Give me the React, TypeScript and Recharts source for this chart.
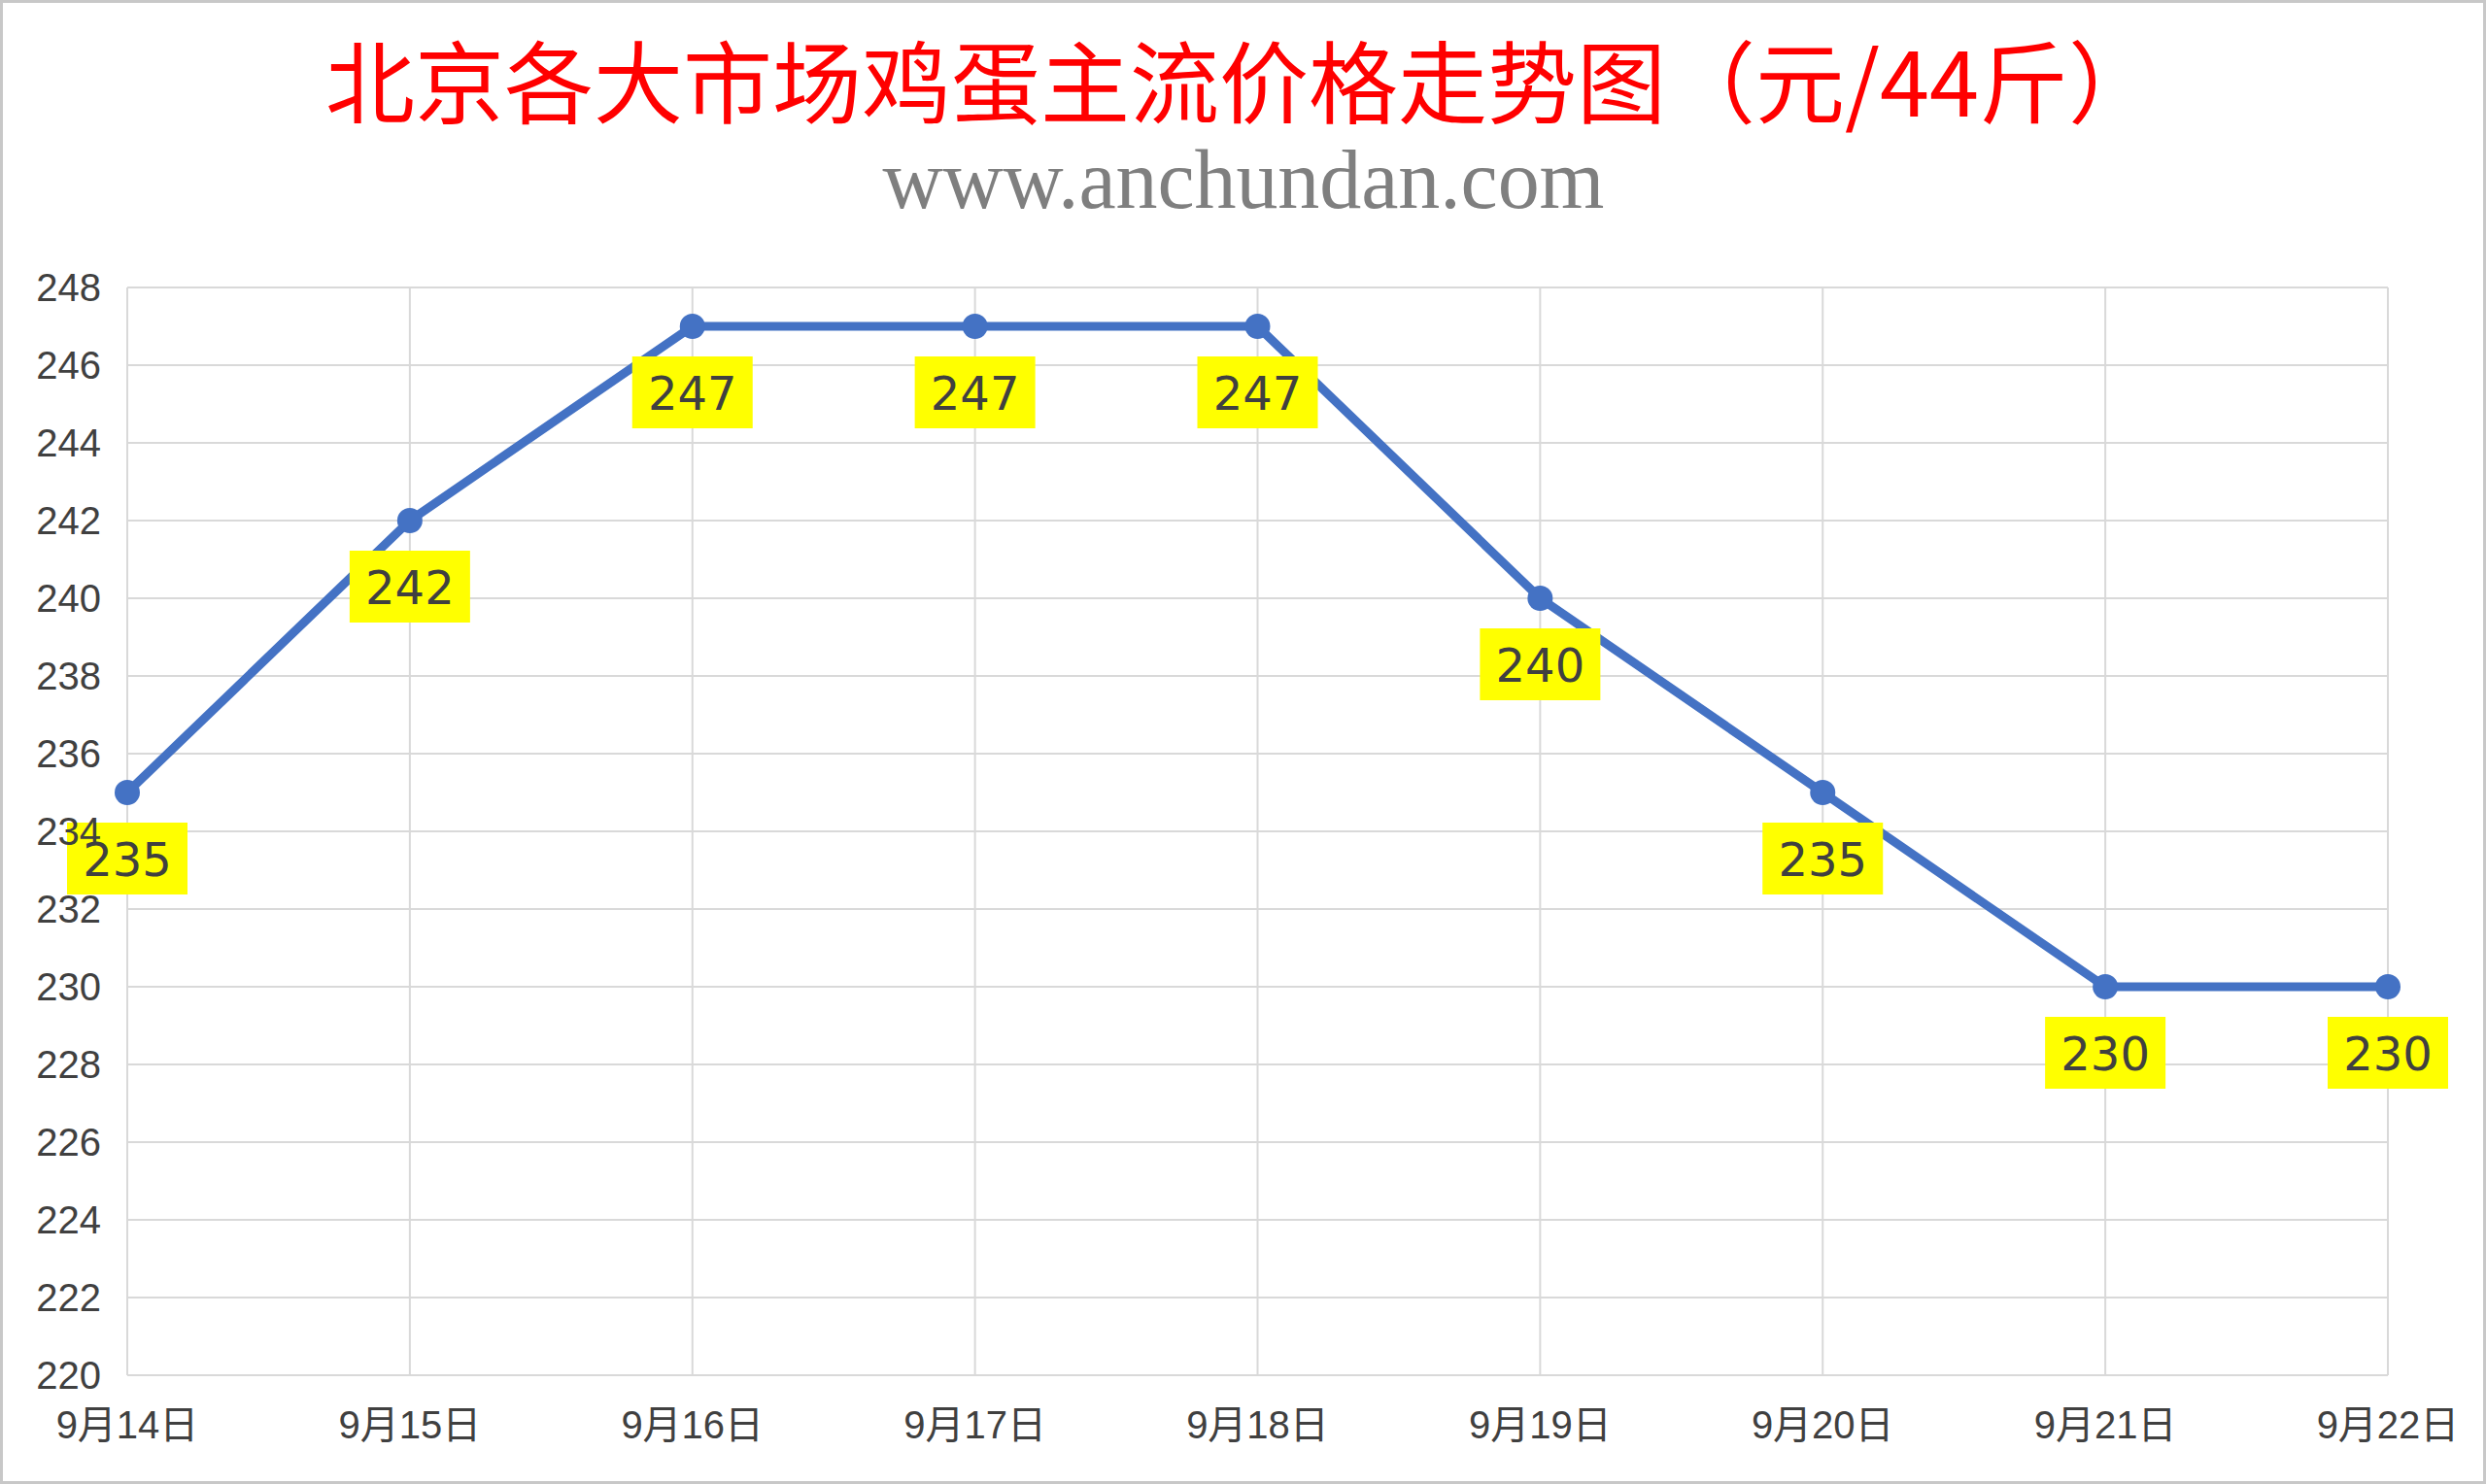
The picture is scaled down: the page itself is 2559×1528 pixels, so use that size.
import { LineChart, Line, XAxis, YAxis, CartesianGrid } from 'recharts'

const dates = ['9月14日', '9月15日', '9月16日', '9月17日', '9月18日', '9月19日', '9月20日', '9月21日', '9月22日']
const prices = [235, 242, 247, 247, 247, 240, 235, 230, 230]
const yTicks = [220, 222, 224, 226, 228, 230, 232, 234, 236, 238, 240, 242, 244, 246, 248]

const chartData = dates.map((d, i) => ({ date: d, price: prices[i] }))

const tickFont = '"Liberation Sans", Arial, "Noto Sans CJK SC", sans-serif'

// yellow box under each point, like the excel data labels
function PriceLabel(props: any) {
  const { x, y, value } = props
  if (x == null || y == null) return null
  return (
    <g>
      <rect x={x - 62} y={y + 31} width={124} height={74} fill="#FFFF00" />
      <text x={x} y={y + 86} textAnchor="middle" fontSize={48} fontFamily='"DejaVu Sans", sans-serif' fill="#404040">
        {value}
      </text>
    </g>
  )
}

export default function App() {
  return (
    <div style={{ position: 'absolute', left: 0, top: 0, width: 2559, height: 1528, background: '#fff' }}>
      <svg width={2559} height={260} style={{ position: 'absolute', left: 0, top: 0 }}>
        <text x={1278} y={120} textAnchor="middle" fontSize={92} fill="#FF0000" fontFamily='"Noto Sans CJK SC", sans-serif'>
          北京各大市场鸡蛋主流价格走势图（元/44斤）
        </text>
        <text x={1280} y={214} textAnchor="middle" fontSize={86} fill="#7F7F7F" fontFamily='"Liberation Serif", serif' textLength={743} lengthAdjust="spacing">
          www.anchundan.com
        </text>
      </svg>

      <LineChart width={2559} height={1528} data={chartData} margin={{ top: 296, right: 101, bottom: 52, left: 51 }}>
        <CartesianGrid stroke="#D9D9D9" strokeWidth={2} />
        <XAxis
          dataKey="date"
          height={60}
          interval={0}
          axisLine={false}
          tickLine={false}
          tickSize={0}
          tickMargin={37}
          tick={{ fontSize: 40, fill: '#404040', fontFamily: tickFont }}
        />
        <Line
          type="linear"
          dataKey="price"
          stroke="#4472C4"
          strokeWidth={9}
          dot={{ r: 13, fill: '#4472C4', stroke: '#4472C4', strokeWidth: 0 }}
          activeDot={false}
          label={(p: any) => <PriceLabel key={p.index} {...p} />}
          isAnimationActive={false}
        />
        <YAxis
          width={80}
          domain={[220, 248]}
          ticks={yTicks}
          interval={0}
          axisLine={false}
          tickLine={false}
          tickSize={0}
          tickMargin={27}
          tick={{ fontSize: 40, fill: '#404040', fontFamily: tickFont }}
        />
      </LineChart>

      <div style={{ position: 'absolute', inset: 0, border: '3px solid #C8C8C8', boxSizing: 'border-box', pointerEvents: 'none' }} />
    </div>
  )
}
